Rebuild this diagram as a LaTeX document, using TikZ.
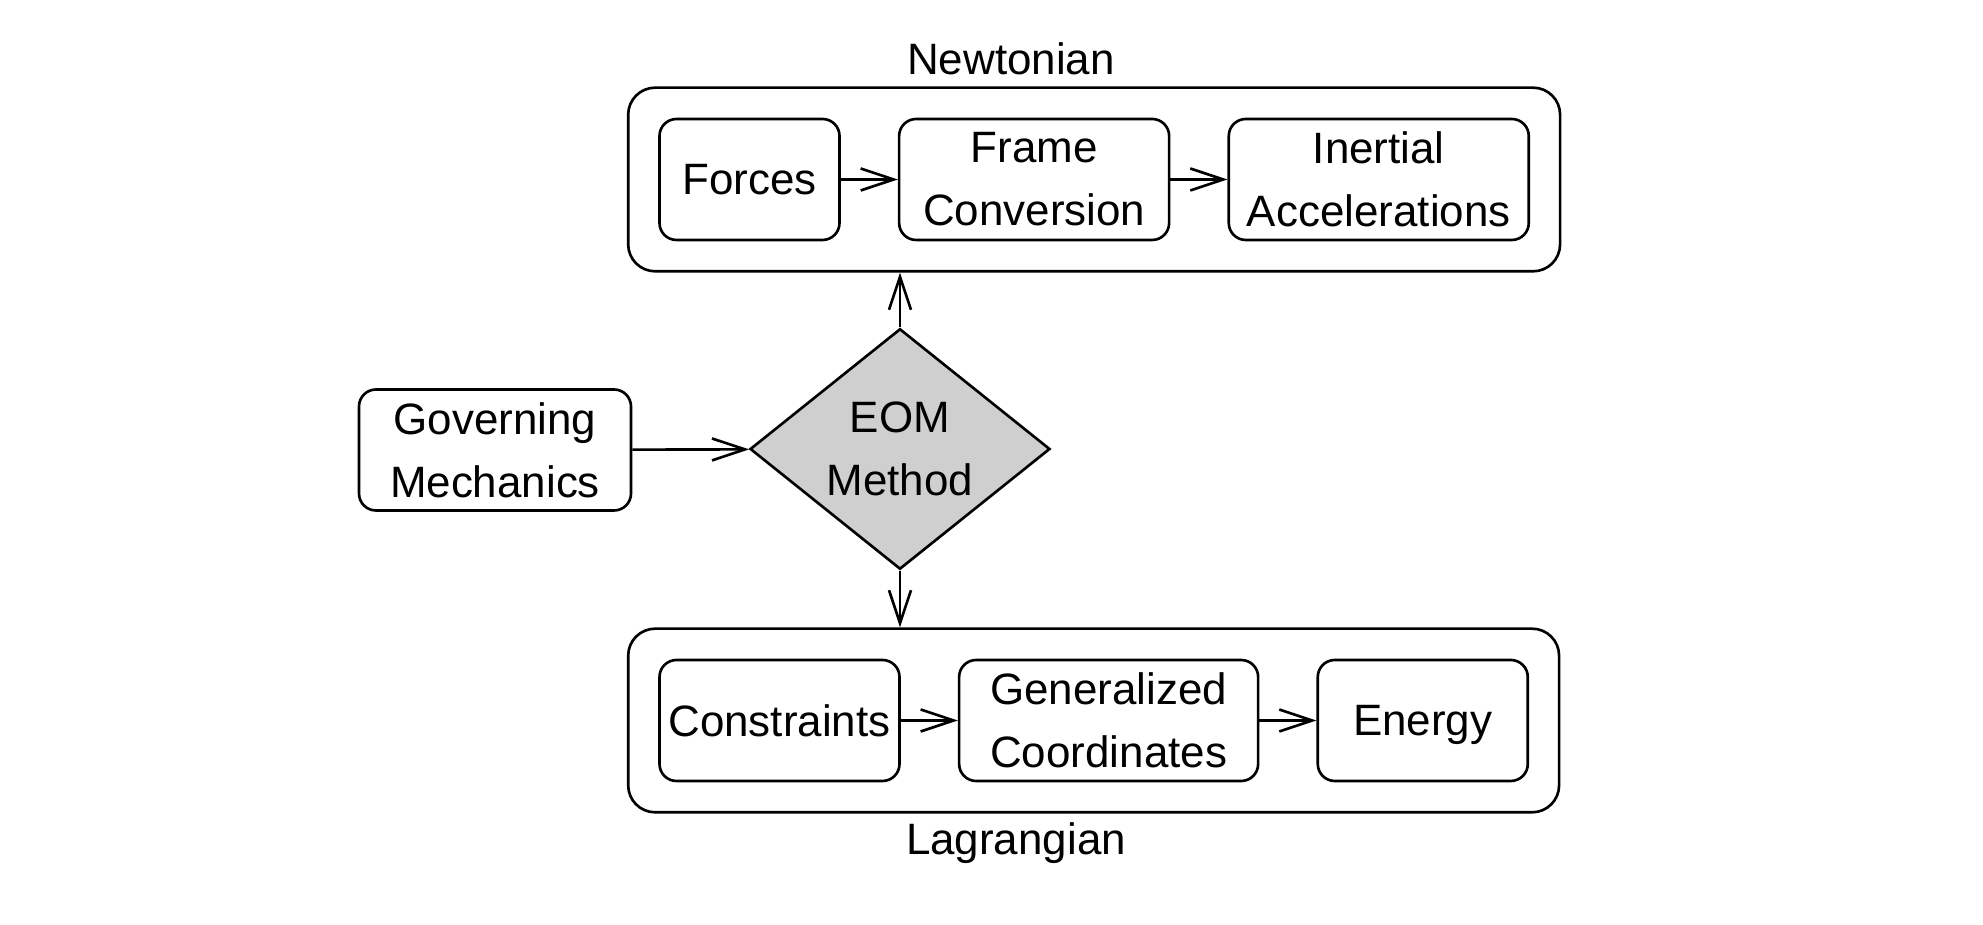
\documentclass[tikz,border=0pt]{standalone}
\usepackage{fontspec}
\setmainfont{Liberation Sans}
\usetikzlibrary{arrows.meta,positioning,fit,shapes.geometric}
\tikzstyle{block} = [rectangle, draw, rounded corners=0.17cm, align=center,
    minimum height=1.21cm, inner sep=0pt]
\tikzstyle{group} = [rectangle, draw, rounded corners=0.27cm, inner sep=0.3cm]
\tikzstyle{decision} = [diamond, draw, fill=black!19, align=center, inner sep=0pt,
    minimum width=3cm, minimum height=2.38cm]
\tikzstyle{title} = [anchor=base]

\begin{document}
\begin{tikzpicture}[->,>={Straight Barb[length=3.3mm,width=2.2mm]},line width=0.75pt,
                    node distance=0.57cm,font=\fontsize{12.5}{17.9}\selectfont]
  \useasboundingbox (0,0) rectangle (19.83,-9.25);

  \node[block,minimum width=2.72cm] (gov)      at (4.95,-4.50)    {Governing\\Mechanics};
  \node[decision]                   (eom)      at (9.00,-4.49)    {EOM\\Method};

  \node[block,minimum width=1.80cm] (forces)   at (7.495,-1.795)  {Forces};
  \node[block,minimum width=2.70cm] (frame)    [right=of forces]  {Frame\\Conversion};
  \node[block,minimum width=3.00cm] (inertial) [right=of frame]   {Inertial\\Accelerations};

  \node[block,minimum width=2.40cm] (cons)     at (7.795,-7.205)  {Constraints};
  \node[block,minimum width=2.99cm] (gen)      [right=of cons]    {Generalized\\Coordinates};
  \node[block,minimum width=2.10cm,text depth=0pt] (energy) [right=of gen] {Energy};

  \node[group,fit=(forces)(frame)(inertial)] (newton)   {};
  \node[group,fit=(cons)(gen)(energy)]       (lagrange) {};
  \node[title] (newtonlabel)   at (10.11,-0.75) {Newtonian};
  \node[title] (lagrangelabel) at (10.16,-8.55) {Lagrangian};

  \path (forces) edge (frame)
        (frame)  edge (inertial)
        (cons)   edge (gen)
        (gen)    edge (energy)
        (gov)    edge (eom)
        (eom)    edge (eom |- newton.south)
                 edge (eom |- lagrange.north);
\end{tikzpicture}
\end{document}
